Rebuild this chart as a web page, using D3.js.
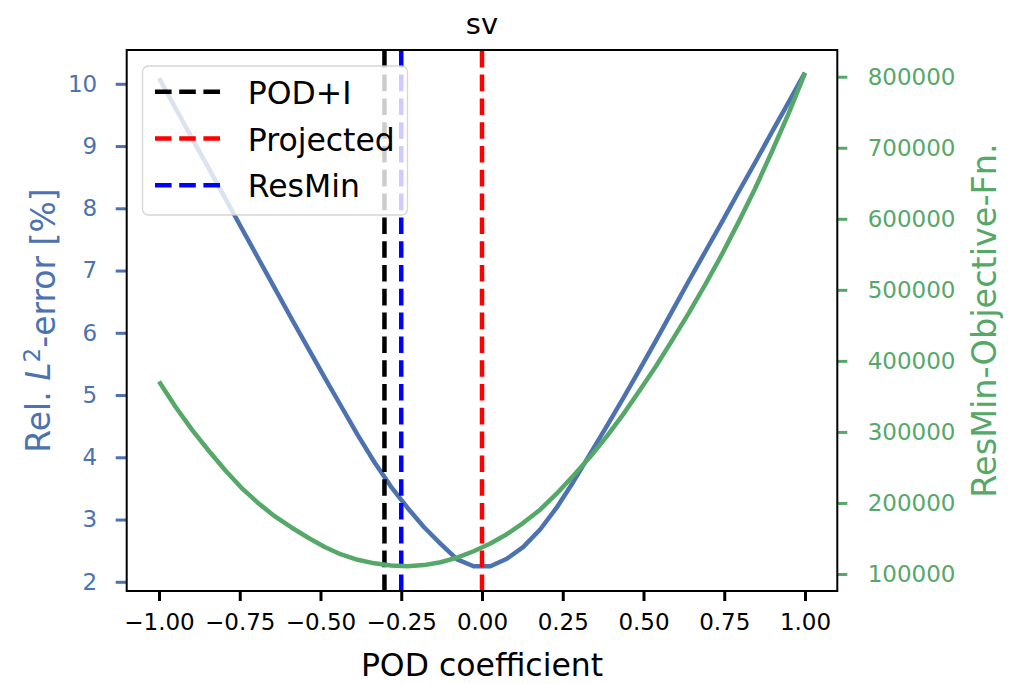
<!DOCTYPE html>
<html>
<head>
<meta charset="utf-8">
<script src="https://cdn.jsdelivr.net/npm/d3@7"></script>
<style>
  html, body { margin: 0; padding: 0; background: #fff; }
  svg { display: block; font-family: "DejaVu Sans", sans-serif; }
</style>
</head>
<body>
<svg id="chart" width="1013" height="684"></svg>
<script>
// Sampled POD coefficients
const coeffs = [-1.000,-0.949,-0.897,-0.846,-0.795,-0.744,-0.692,-0.641,-0.590,-0.538,
                -0.487,-0.436,-0.385,-0.333,-0.282,-0.231,-0.180,-0.128,-0.077,-0.026,
                 0.026, 0.077, 0.128, 0.180, 0.231, 0.282, 0.333, 0.385, 0.436, 0.487,
                 0.538, 0.590, 0.641, 0.692, 0.744, 0.795, 0.846, 0.897, 0.949, 1.000];
// Relative L2 error [%]
const relError = [10.09,9.61,9.12,8.64,8.16,7.68,7.19,6.71,6.23,5.75,
                  5.28,4.82,4.36,3.92,3.53,3.19,2.88,2.61,2.36,2.25,
                  2.25,2.37,2.56,2.84,3.19,3.60,4.04,4.49,4.94,5.40,
                  5.87,6.36,6.84,7.31,7.79,8.27,8.74,9.22,9.70,10.18];
// ResMin objective function
const objective = [371000,335500,302500,273500,246000,221000,199500,181000,165500,151000,
                   138000,127500,120000,115000,112000,111000,112500,116500,123000,132000,
                   143000,156000,172000,190500,213000,238000,264000,293000,324000,357500,
                   392000,430000,468000,508000,551000,596000,643000,694000,748000,805000];
// Coefficients chosen by the three methods
const methodNames = ["POD+I", "Projected", "ResMin"];
const methodCoeffs = [-0.302, 0.0, -0.25];
const methodColors = ["#000000", "#ff0000", "#0000ff"];

const xTicks = [-1.0,-0.75,-0.5,-0.25,0.0,0.25,0.5,0.75,1.0];
const leftTicks = [2,3,4,5,6,7,8,9,10];
const rightTicks = [100000,200000,300000,400000,500000,600000,700000,800000];

const blue = "#4c72b0", green = "#55a868";
const L = 126.7, R = 837.3, T = 50, B = 591;

const svg = d3.select("#chart");
const x = d3.scaleLinear().domain([-1.1, 1.1]).range([L, R]);
const yL = d3.scaleLinear().domain([1.852, 10.543]).range([B, T]);
const yR = d3.scaleLinear().domain([76070, 837600]).range([B, T]);

// Axes
const xAxis = svg.append("g").attr("transform", `translate(0,${B})`)
  .call(d3.axisBottom(x).tickValues(xTicks).tickFormat(d3.format(".2f"))
        .tickSizeInner(10).tickSizeOuter(0).tickPadding(13));
const lAxis = svg.append("g").attr("transform", `translate(${L},0)`)
  .call(d3.axisLeft(yL).tickValues(leftTicks).tickFormat(d3.format("d"))
        .tickSizeInner(11).tickSizeOuter(0).tickPadding(18.5));
const rAxis = svg.append("g").attr("transform", `translate(${R},0)`)
  .call(d3.axisRight(yR).tickValues(rightTicks).tickFormat(d3.format("d"))
        .tickSizeInner(10).tickSizeOuter(0).tickPadding(20.4));

[[xAxis, "#000"], [lAxis, blue], [rAxis, green]].forEach(([g, c]) => {
  g.select(".domain").remove();
  g.selectAll(".tick line").attr("stroke", c).attr("stroke-width", 3);
  g.selectAll(".tick text").attr("fill", c)
    .style("font-family", "DejaVu Sans").style("font-size", "23px");
});

// Relative error curve
const line = d3.line().curve(d3.curveLinear);
svg.append("path")
  .attr("d", line(coeffs.map((c, i) => [x(c), yL(relError[i])])))
  .attr("fill", "none").attr("stroke", blue).attr("stroke-width", 4.5)
  .attr("stroke-linejoin", "round");

// Vertical method markers, dashes starting at the bottom
methodCoeffs.forEach((c, i) => {
  svg.append("line")
    .attr("x1", x(c)).attr("x2", x(c)).attr("y1", B).attr("y2", T)
    .attr("stroke", methodColors[i]).attr("stroke-width", 4.5)
    .attr("stroke-dasharray", "16.6 7.2");
});

// Legend
const lg = svg.append("g");
lg.append("rect").attr("x", 142.5).attr("y", 66).attr("width", 265).attr("height", 149)
  .attr("rx", 6).attr("fill", "#fff").attr("fill-opacity", 0.8)
  .attr("stroke", "#cccccc").attr("stroke-opacity", 0.8).attr("stroke-width", 1.3);
const rowY = [91.7, 138.5, 185.3];
methodNames.forEach((n, i) => {
  lg.append("line").attr("x1", 155).attr("x2", 220).attr("y1", rowY[i]).attr("y2", rowY[i])
    .attr("stroke", methodColors[i]).attr("stroke-width", 4.5)
    .attr("stroke-dasharray", "16.6 7.6");
  lg.append("text").attr("x", 247.7).attr("y", rowY[i] + 12)
    .style("font-size", "31.5px").attr("fill", "#000").text(n);
});

// ResMin objective curve (secondary axis)
svg.append("path")
  .attr("d", line(coeffs.map((c, i) => [x(c), yR(objective[i])])))
  .attr("fill", "none").attr("stroke", green).attr("stroke-width", 4.5)
  .attr("stroke-linejoin", "round");

// Frame
svg.append("rect").attr("x", L).attr("y", T).attr("width", R - L).attr("height", B - T)
  .attr("fill", "none").attr("stroke", "#000").attr("stroke-width", 2);

// Title and axis labels
svg.append("text").attr("x", (L + R) / 2).attr("y", 34.3).attr("text-anchor", "middle")
  .style("font-size", "29px").text("sv");
svg.append("text").attr("x", (L + R) / 2).attr("y", 676).attr("text-anchor", "middle")
  .style("font-size", "31.5px").text("POD coefficient");

const yl = svg.append("text")
  .attr("transform", `translate(50,${(T + B) / 2}) rotate(-90)`)
  .attr("text-anchor", "middle").attr("fill", blue).style("font-size", "33px");
yl.append("tspan").text("Rel. ");
yl.append("tspan").style("font-style", "italic").text("L");
yl.append("tspan").attr("dy", "-0.45em").style("font-size", "23px").text("2");
yl.append("tspan").attr("dy", "0.45em").text("-error [%]");

svg.append("text")
  .attr("transform", `translate(996,${(T + B) / 2}) rotate(-90)`)
  .attr("text-anchor", "middle").attr("fill", green).style("font-size", "33.5px")
  .text("ResMin-Objective-Fn.");
</script>
</body>
</html>
